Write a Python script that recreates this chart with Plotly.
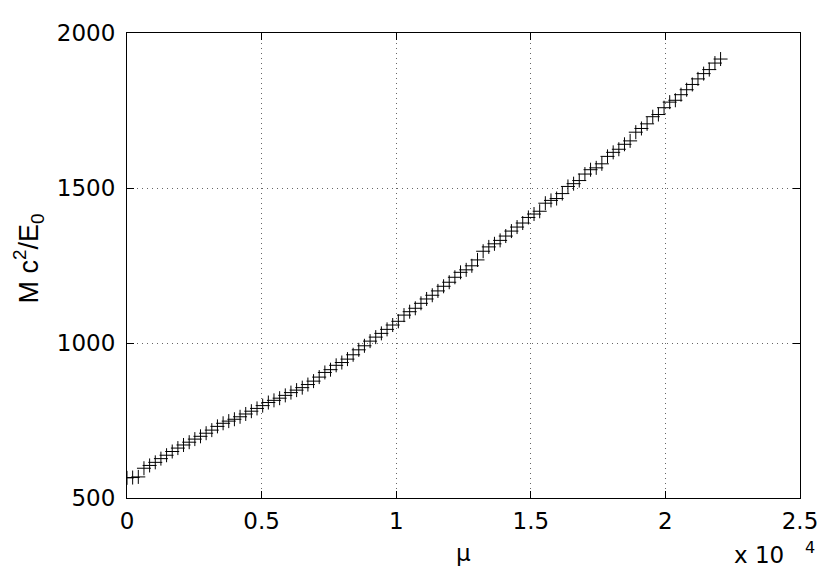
import plotly.graph_objects as go

mu = [0, 210, 420, 630, 840, 1050, 1260, 1470, 1680, 1890,
      2100, 2310, 2520, 2730, 2940, 3150, 3360, 3570, 3780, 3990,
      4200, 4410, 4620, 4830, 5040, 5250, 5460, 5670, 5880, 6090,
      6300, 6510, 6720, 6930, 7140, 7350, 7560, 7770, 7980, 8190,
      8400, 8610, 8820, 9030, 9240, 9450, 9660, 9870, 10080, 10290,
      10500, 10710, 10920, 11130, 11340, 11550, 11760, 11970, 12180, 12390,
      12600, 12810, 13020, 13230, 13440, 13650, 13860, 14070, 14280, 14490,
      14700, 14910, 15120, 15330, 15540, 15750, 15960, 16170, 16380, 16590,
      16800, 17010, 17220, 17430, 17640, 17850, 18060, 18270, 18480, 18690,
      18900, 19110, 19320, 19530, 19740, 19950, 20160, 20370, 20580, 20790,
      21000, 21210, 21420, 21630, 21840, 22050]

mass = [565, 566, 568, 596, 605, 615, 627, 638, 650, 661,
        671, 680, 690, 699, 709, 719, 731, 741, 748, 754,
        762, 771, 780, 789, 798, 808, 815, 822, 831, 840,
        848, 856, 866, 877, 890, 905, 914, 928, 937, 948,
        962, 978, 991, 1006, 1019, 1031, 1044, 1058, 1070, 1090,
        1101, 1112, 1128, 1142, 1154, 1168, 1183, 1196, 1212, 1228,
        1236, 1249, 1268, 1296, 1310, 1320, 1331, 1345, 1361, 1374,
        1387, 1405, 1416, 1425, 1451, 1460, 1466, 1482, 1505, 1514,
        1524, 1545, 1559, 1565, 1578, 1602, 1615, 1625, 1641, 1652,
        1680, 1692, 1707, 1730, 1737, 1759, 1777, 1783, 1801, 1817,
        1834, 1852, 1869, 1882, 1903, 1916]

x_tickvals = [0, 5000, 10000, 15000, 20000, 25000]
x_ticktext = ["0", "0.5", "1", "1.5", "2", "2.5"]
y_tickvals = [500, 1000, 1500, 2000]
y_ticktext = ["500", "1000", "1500", "2000"]

FONT = "DejaVu Sans, Liberation Sans, Arial, sans-serif"
LFONT = "Liberation Sans, Arial, Helvetica, sans-serif"
FS = 23

fig = go.Figure()
fig.add_trace(go.Scatter(
    x=mu, y=mass, mode="markers",
    marker=dict(symbol="cross-thin", size=10, line=dict(color="black", width=1), color="black"),
    showlegend=False,
))

axis_common = dict(
    showline=True, linecolor="black", linewidth=1, mirror="ticks",
    ticks="inside", ticklen=7, tickcolor="black", tickwidth=1,
    showgrid=True, gridcolor="#666666", griddash="1px,4px", gridwidth=1,
    zeroline=False, ticklabeloverflow="allow",
    tickfont=dict(family=FONT, size=FS, color="black"),
)

fig.update_xaxes(
    range=[0, 25000], tickvals=x_tickvals, ticktext=x_ticktext,
    ticklabelstandoff=2,
    **axis_common,
)
fig.update_yaxes(
    range=[500, 2000], tickvals=y_tickvals, ticktext=y_ticktext,
    ticklabelstandoff=6,
    **axis_common,
)

# x-axis label
fig.add_annotation(
    x=0.5, y=0, xref="paper", yref="paper",
    xanchor="center", yanchor="top", yshift=-40,
    text="μ", showarrow=False,
    font=dict(family=FONT, size=FS, color="black"),
)
# y-axis label
fig.add_annotation(
    x=0, y=0.5, xref="paper", yref="paper",
    xanchor="center", yanchor="middle", xshift=-99, yshift=7,
    text="M c<sup>2</sup>/E<sub>0</sub>", textangle=-90, showarrow=False,
    font=dict(family=LFONT, size=27, color="black"),
)
# exponent label
fig.add_annotation(
    x=1.0, y=0, xref="paper", yref="paper",
    xanchor="left", yanchor="bottom", yshift=-72, xshift=-68,
    text="x 10", showarrow=False,
    font=dict(family=FONT, size=FS, color="black"),
)
fig.add_annotation(
    x=1.0, y=0, xref="paper", yref="paper",
    xanchor="center", yanchor="bottom", yshift=-61, xshift=10,
    text="4", showarrow=False,
    font=dict(family=FONT, size=16, color="black"),
)

fig.update_layout(
    width=822, height=573,
    margin=dict(l=119, r=27, t=14, b=83),
    paper_bgcolor="white", plot_bgcolor="white",
)

fig.write_html("out.html")
